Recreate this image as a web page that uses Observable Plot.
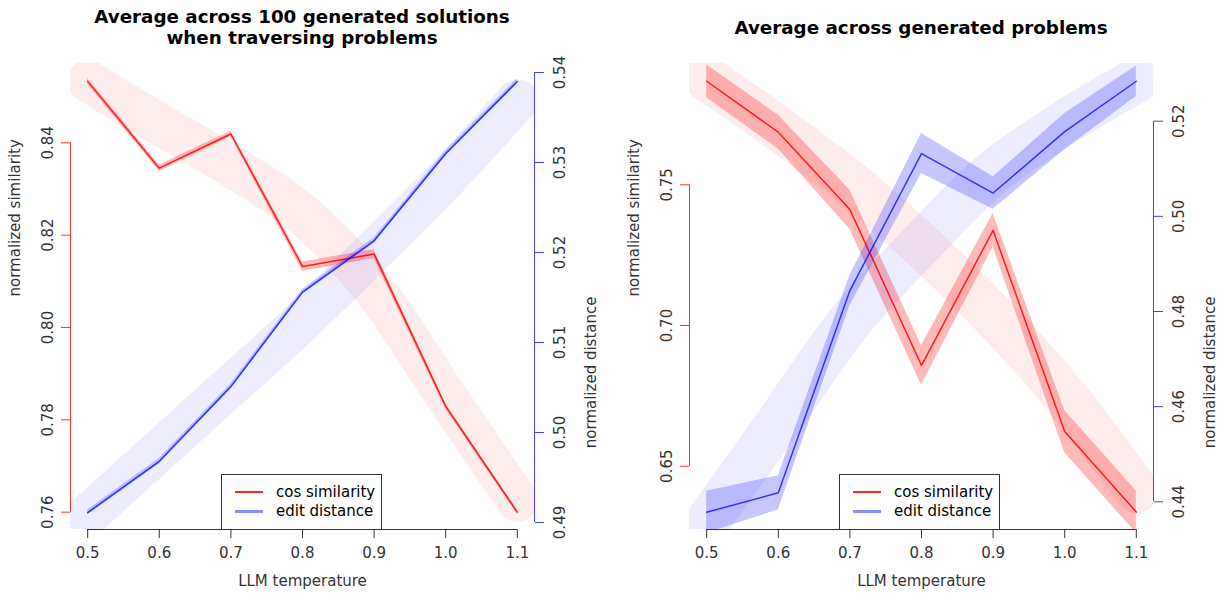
<!DOCTYPE html>
<html><head><meta charset="utf-8">
<script src="https://cdn.jsdelivr.net/npm/d3@7"></script>
<script src="https://cdn.jsdelivr.net/npm/@observablehq/plot@0.6"></script>
<style>
html,body{margin:0;padding:0;background:#fff;}
#root{position:relative;width:1225px;height:599px;overflow:hidden;font-family:"DejaVu Sans",sans-serif;}
.layer{position:absolute;top:0;}
.title{position:absolute;font-weight:bold;font-size:18.3px;text-align:center;line-height:21px;color:#000;transform:translateX(-50%);white-space:nowrap;}
.legend{position:absolute;box-sizing:border-box;border:1px solid #333;background:#fff;font-size:15px;color:#000;z-index:5;}
.legend .sw{position:absolute;left:13px;width:28px;}
.legend .lab{position:absolute;left:54px;line-height:19px;white-space:nowrap;}
</style></head><body><div id="root"></div><script>
// ---------- data ----------
const temps = [0.5, 0.6, 0.7, 0.8, 0.9, 1.0, 1.1];
const tempTicks = [0.5, 0.6, 0.7, 0.8, 0.9, 1.0, 1.1];

// Panel 1: average across 100 generated solutions when traversing problems
const p1Similarity      = [0.8533, 0.8345, 0.8419, 0.8132, 0.8159, 0.7829, 0.7600];
const p1SimilarityErr   = [0.0006, 0.0007, 0.0006, 0.0010, 0.0010, 0.0006, 0.0005];
const p1SimilarityTrend = [0.8534, 0.8440, 0.8350, 0.8245, 0.8082, 0.7852, 0.7625];
const p1Distance        = [0.4911, 0.4968, 0.5051, 0.5156, 0.5213, 0.5310, 0.5390];
const p1DistanceErr     = [0.0003, 0.0003, 0.0003, 0.0003, 0.0003, 0.0003, 0.0003];
const p1DistanceTrend   = [0.4908, 0.4980, 0.5052, 0.5124, 0.5202, 0.5282, 0.5369];
const p1SimTicks  = [0.76, 0.78, 0.80, 0.82, 0.84];
const p1DistTicks = [0.49, 0.50, 0.51, 0.52, 0.53, 0.54];

// Panel 2: average across generated problems
const p2Similarity      = [0.7868, 0.7687, 0.7412, 0.6858, 0.7338, 0.6623, 0.6337];
const p2SimilarityErr   = [0.0059, 0.0060, 0.0070, 0.0070, 0.0060, 0.0075, 0.0075];
const p2SimilarityTrend = [0.7878, 0.7700, 0.7508, 0.7284, 0.7035, 0.6751, 0.6413];
const p2Distance        = [0.4378, 0.4419, 0.4844, 0.5132, 0.5049, 0.5178, 0.5284];
const p2DistanceErr     = [0.0044, 0.0036, 0.0032, 0.0042, 0.0034, 0.0038, 0.0032];
const p2DistanceTrend   = [0.4356, 0.4567, 0.4779, 0.4943, 0.5092, 0.5197, 0.5286];
const p2SimTicks  = [0.65, 0.70, 0.75];
const p2DistTicks = [0.44, 0.46, 0.48, 0.50, 0.52];

const titles = [["Average across 100 generated solutions", "when traversing problems"], ["Average across generated problems"]];
const legendLabels = ["cos similarity", "edit distance"];
const xLabel = "LLM temperature";
const ySimLabel = "normalized similarity";
const yDistLabel = "normalized distance";

// ---------- drawing ----------
const root = document.getElementById("root");
const xDomain = [0.476, 1.124];

function rows(v, e, tr) {
  return temps.map((t, i) => ({t, v: v[i], lo: v[i] - e[i], hi: v[i] + e[i], trend: tr[i]}));
}

function panel(cfg) {
  const common = {
    width: cfg.width, height: 599, marginTop: 63, marginBottom: 70,
    marginLeft: cfg.marginLeft, marginRight: cfg.marginRight,
    style: {background: "transparent", fontFamily: "DejaVu Sans", fontSize: "15px", overflow: "visible", color: "#333"}
  };
  const sr = rows(cfg.sim, cfg.simErr, cfg.simTrend);
  const dr = rows(cfg.dist, cfg.distErr, cfg.distTrend);
  const a = Plot.plot({
    ...common,
    x: {domain: xDomain},
    y: {domain: cfg.simDomain},
    marks: [
      Plot.line(sr, {x: "t", y: "trend", stroke: "red", strokeOpacity: 0.07, strokeWidth: cfg.trendWidth, strokeLinecap: "round", strokeLinejoin: "round", curve: "catmull-rom", clip: true}),
      Plot.areaY(sr, {x: "t", y1: "lo", y2: "hi", fill: "red", fillOpacity: 0.27, clip: true}),
      Plot.line(sr, {x: "t", y: "v", stroke: "red", strokeOpacity: 0.85, strokeWidth: 1.5, clip: true}),
      Plot.ruleX([xDomain[0]], {y1: cfg.simTicks[0], y2: cfg.simTicks[cfg.simTicks.length - 1], stroke: "#ff3030"}),
      Plot.axisY({anchor: "left", ticks: cfg.simTicks, tickFormat: ".2f", tickSize: 9, tickRotate: -90, tickPadding: 9, stroke: "#ff3030", fill: "#333", label: null}),
      Plot.text([ySimLabel], {text: d => d, frameAnchor: "left", dx: -55, rotate: -90, fill: "#333", fontSize: 15}),
      Plot.ruleY([cfg.simDomain[0]], {x1: tempTicks[0], x2: tempTicks[tempTicks.length - 1], stroke: "#333"}),
      Plot.axisX({ticks: tempTicks, tickSize: 9, tickFormat: () => "", stroke: "#333", label: null}),
      Plot.text(tempTicks, {x: d => d, text: d3.format(".1f"), frameAnchor: "bottom", dy: 28, fill: "#333", fontSize: 15}),
      Plot.text([xLabel], {text: d => d, frameAnchor: "bottom", dy: 56, fill: "#333", fontSize: 15})
    ]
  });
  const b = Plot.plot({
    ...common,
    x: {domain: xDomain, axis: null},
    y: {domain: cfg.distDomain},
    marks: [
      Plot.line(dr, {x: "t", y: "trend", stroke: "blue", strokeOpacity: 0.07, strokeWidth: cfg.trendWidth, strokeLinecap: "round", strokeLinejoin: "round", curve: "catmull-rom", clip: true}),
      Plot.areaY(dr, {x: "t", y1: "lo", y2: "hi", fill: "blue", fillOpacity: 0.22, clip: true}),
      Plot.line(dr, {x: "t", y: "v", stroke: "blue", strokeOpacity: 0.75, strokeWidth: 1.5, clip: true}),
      Plot.ruleX([xDomain[1]], {y1: cfg.distTicks[0], y2: cfg.distTicks[cfg.distTicks.length - 1], stroke: "#4040ff"}),
      Plot.axisY({anchor: "right", ticks: cfg.distTicks, tickFormat: ".2f", tickSize: 9, tickRotate: -90, tickPadding: 11, lineAnchor: "top", stroke: "#4040ff", fill: "#333", label: null}),
      Plot.text([yDistLabel], {text: d => d, frameAnchor: "right", dx: 57, rotate: -90, fill: "#333", fontSize: 15})
    ]
  });
  for (const s of [a, b]) {
    s.classList.add("layer");
    s.style.left = cfg.left + "px";
    root.appendChild(s);
  }
  // title
  const t = document.createElement("div");
  t.className = "title";
  t.style.left = (cfg.left + cfg.marginLeft + (cfg.width - cfg.marginLeft - cfg.marginRight) / 2) + "px";
  t.style.top = cfg.titleTop + "px";
  t.innerHTML = cfg.title.join("<br>");
  root.appendChild(t);
  // legend
  const lg = document.createElement("div");
  lg.className = "legend";
  lg.style.left = cfg.legendLeft + "px";
  lg.style.top = "474px";
  lg.style.width = "161px";
  lg.style.height = "56px";
  const swatch = [{c: "rgba(255,0,0,0.85)", w: 1.5}, {c: "rgba(0,0,255,0.45)", w: 3}];
  legendLabels.forEach((lab, i) => {
    const sw = document.createElement("div");
    sw.className = "sw";
    sw.style.top = (17 + i * 19 - swatch[i].w / 2) + "px";
    sw.style.height = swatch[i].w + "px";
    sw.style.background = swatch[i].c;
    lg.appendChild(sw);
    const tx = document.createElement("div");
    tx.className = "lab";
    tx.style.top = (8 + i * 19) + "px";
    tx.textContent = lab;
    lg.appendChild(tx);
  });
  root.appendChild(lg);
}

panel({
  left: 0, width: 612, marginLeft: 70, marginRight: 78,
  sim: p1Similarity, simErr: p1SimilarityErr, simTrend: p1SimilarityTrend,
  dist: p1Distance, distErr: p1DistanceErr, distTrend: p1DistanceTrend,
  simDomain: [0.75625, 0.85717], distDomain: [0.48922, 0.541],
  simTicks: p1SimTicks, distTicks: p1DistTicks, trendWidth: 42,
  title: titles[0], titleTop: 5.5, legendLeft: 221
});
panel({
  left: 612, width: 613, marginLeft: 77, marginRight: 72,
  sim: p2Similarity, simErr: p2SimilarityErr, simTrend: p2SimilarityTrend,
  dist: p2Distance, distErr: p2DistanceErr, distTrend: p2DistanceTrend,
  simDomain: [0.62751, 0.79311], distDomain: [0.43418, 0.53213],
  simTicks: p2SimTicks, distTicks: p2DistTicks, trendWidth: 45,
  title: titles[1], titleTop: 16.5, legendLeft: 839
});
</script></body></html>
